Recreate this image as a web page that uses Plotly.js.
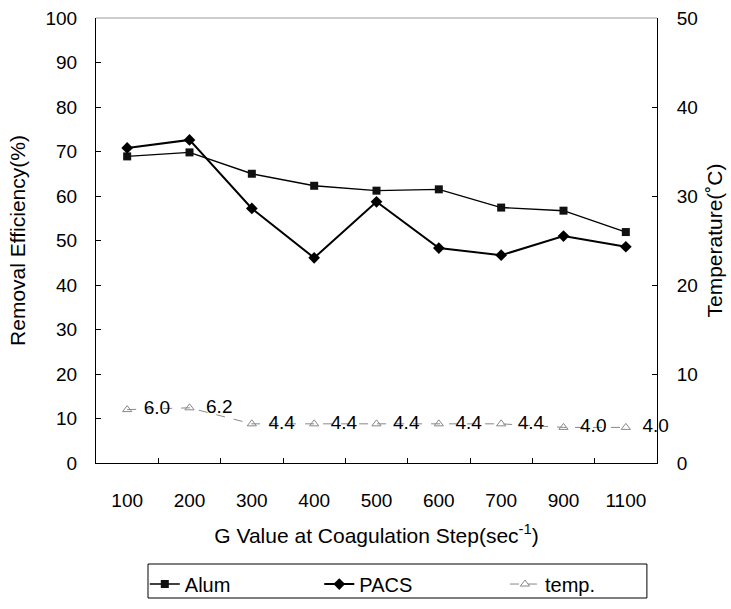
<!DOCTYPE html>
<html>
<head>
<meta charset="utf-8">
<script src="https://cdn.plot.ly/plotly-3.0.1.min.js"></script>
<style>html,body{margin:0;padding:0;background:#fff;}#chart{width:731px;height:609px;}</style>
</head>
<body>
<div id="chart"></div>
<script>
const categories = ["100","200","300","400","500","600","700","900","1100"];
const alum = [68.9, 69.8, 65.0, 62.3, 61.2, 61.5, 57.4, 56.7, 51.9];
const pacs = [70.8, 72.6, 57.2, 46.1, 58.7, 48.3, 46.7, 51.0, 48.6];
const temp = [6.0, 6.2, 4.4, 4.4, 4.4, 4.4, 4.4, 4.0, 4.0];

const FONT = "Liberation Sans, Arial, sans-serif";

const traces = [
  {
    x: categories, y: alum, name: "Alum", type: "scatter", mode: "lines+markers",
    legend: "legend",
    line: {color: "#000", width: 1.4},
    marker: {symbol: "square", size: 8, color: "#111"}
  },
  {
    x: categories, y: pacs, name: "PACS", type: "scatter", mode: "lines+markers",
    legend: "legend2",
    line: {color: "#000", width: 2},
    marker: {symbol: "diamond", size: 9, color: "#000"}
  },
  {
    x: categories, y: temp, name: "temp.", type: "scatter", mode: "lines+markers+text",
    yaxis: "y2", legend: "legend3",
    line: {color: "#888", width: 1, dash: "dash"},
    marker: {symbol: "triangle-up-open", size: 8, color: "#888", line: {width: 1}},
    text: temp.map(v => "  " + v.toFixed(1)),
    textposition: "middle right",
    textfont: {family: FONT, size: 19, color: "#000"},
    cliponaxis: false
  }
];

const legendBase = {
  orientation: "h", yanchor: "middle", xanchor: "left", y: -0.272,
  borderwidth: 0, bgcolor: "rgba(0,0,0,0)",
  font: {family: FONT, size: 20, color: "#000"}
};

const layout = {
  width: 731, height: 609,
  margin: {l: 96, r: 74, t: 18, b: 146, autoexpand: false},
  paper_bgcolor: "#fff", plot_bgcolor: "#fff",
  font: {family: FONT, size: 19, color: "#000"},
  showlegend: true,
  xaxis: {
    type: "category", range: [-0.5, 8.5],
    showgrid: false, zeroline: false,
    showline: true, linecolor: "#000", linewidth: 1,
    ticks: "inside", ticklen: 5, tickcolor: "#000", tickson: "boundaries",
    ticklabelstandoff: 20,
    title: {text: "G Value at Coagulation Step(sec<sup>-1</sup>)", standoff: 18, font: {family: FONT, size: 21}},
    automargin: false
  },
  yaxis: {
    range: [0, 100], dtick: 10, tick0: 0,
    showgrid: false, zeroline: false,
    showline: true, linecolor: "#000", linewidth: 1,
    ticks: "inside", ticklen: 5, tickcolor: "#000",
    ticklabelstandoff: 14,
    title: {text: "Removal Efficiency(%)", standoff: 14, font: {family: FONT, size: 21}},
    automargin: false
  },
  yaxis2: {
    range: [0, 50], dtick: 10, tick0: 0,
    overlaying: "y", side: "right",
    showgrid: false, zeroline: false,
    showline: true, linecolor: "#000", linewidth: 1,
    ticks: "inside", ticklen: 5, tickcolor: "#000",
    ticklabelstandoff: 15,
    title: {text: "Temperature(˚C)", standoff: 10, font: {family: FONT, size: 21}},
    automargin: false
  },
  legend: Object.assign({}, legendBase, {x: 0.087}),
  legend2: Object.assign({}, legendBase, {x: 0.398}),
  legend3: Object.assign({}, legendBase, {x: 0.729}),
  shapes: [
    {type: "line", xref: "paper", yref: "paper", x0: 0, x1: 1, y0: 1, y1: 1,
     line: {color: "#999", width: 1}},
    {type: "rect", xref: "paper", yref: "paper", x0: 0.0927, x1: 0.982, y0: -0.3034, y1: -0.227,
     line: {color: "#000", width: 1}, fillcolor: "rgba(0,0,0,0)"}
  ]
};

Plotly.newPlot("chart", traces, layout, {staticPlot: true, displayModeBar: false});
</script>
</body>
</html>
